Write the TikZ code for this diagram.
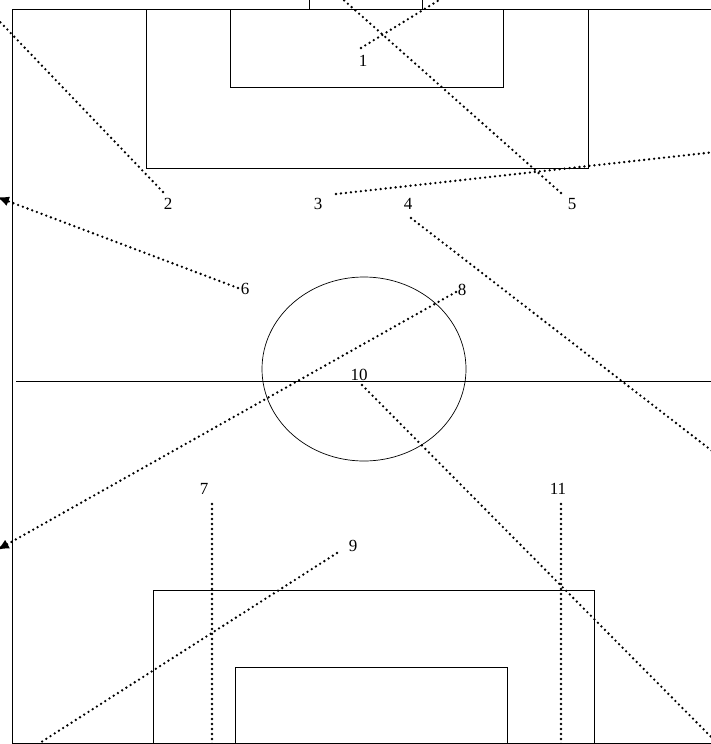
\documentclass[tikz,border=0pt]{standalone}
\usepackage{fontspec}
\setmainfont{Liberation Serif}
\usetikzlibrary{arrows.meta}

\begin{document}
\begin{tikzpicture}[x=1pt, y=-1pt,
    num/.style={font=\fontsize{17}{20}\selectfont, inner sep=0pt},
    field/.style={draw, line width=0.7pt},
    run/.style={line width=2.6pt, line cap=round, dash pattern=on 0pt off 5pt,
                -{Latex[length=12pt, width=10pt]}}
]
\useasboundingbox (0,0) rectangle (711,744);
\clip (0,0) rectangle (711,744);

% --- pitch ---
\draw[field] (12,9) rectangle (760,743);
\draw[field] (16,381) -- (760,381);
\draw[field] (364,369) ellipse [x radius=102, y radius=92];

% --- top end ---
\draw[field] (309,-5) rectangle (422,9);
\draw[field] (146,9) rectangle (588,168);
\draw[field] (230,9) rectangle (503,87);

% --- bottom end ---
\draw[field] (153,590) rectangle (594,743);
\draw[field] (235,667) rectangle (507,743);

% --- players ---
\coordinate (p1) at (361,48);
\coordinate (p2) at (163,192);
\coordinate (p3) at (336,194);
\coordinate (p4) at (411,218);
\coordinate (p5) at (561,193);
\coordinate (p6) at (238,288);
\coordinate (p7) at (212,504);
\coordinate (p8) at (456,292);
\coordinate (p9) at (337,553);
\coordinate (p10) at (362,385);
\coordinate (p11) at (561,504);

\node[num] (n1) at (363,61) {1};
\node[num] (n2) at (168,204) {2};
\node[num] (n3) at (318,204) {3};
\node[num] (n4) at (408,204) {4};
\node[num] (n5) at (572,204) {5};
\node[num] (n6) at (245,289) {6};
\node[num] (n7) at (204,489) {7};
\node[num] (n8) at (462,290) {8};
\node[num] (n9) at (353,546) {9};
\node[num] (n10) at (359,375) {10};
\node[num] (n11) at (558,489) {11};

% --- targets ---
\coordinate (t1) at (480,-25);
\coordinate (t2) at (-20,1);
\coordinate (t3) at (760,147);
\coordinate (t4) at (760,488);
\coordinate (t5) at (320,-21);
\coordinate (t6) at (-3,197);
\coordinate (t7) at (212,760);
\coordinate (t8) at (-3,550);
\coordinate (t9) at (10,762);
\coordinate (t10) at (730,756);
\coordinate (t11) at (561,760);

% --- runs ---
\draw[run] (p1) -- (t1);
\draw[run] (p2) -- (t2);
\draw[run] (p3) -- (t3);
\draw[run] (p4) -- (t4);
\draw[run] (p5) -- (t5);
\draw[run] (p6) -- (t6);
\draw[run] (p7) -- (t7);
\draw[run] (p8) -- (t8);
\draw[run] (p9) -- (t9);
\draw[run] (p10) -- (t10);
\draw[run] (p11) -- (t11);

\end{tikzpicture}
\end{document}
